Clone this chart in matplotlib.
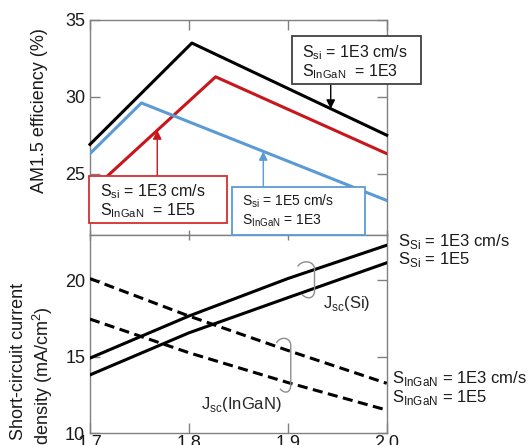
import matplotlib
matplotlib.use("Agg")
import matplotlib.pyplot as plt
import numpy as np
from matplotlib.patches import Rectangle, PathPatch
from matplotlib.path import Path

plt.rcParams['font.family'] = ['Liberation Sans', 'DejaVu Sans']
plt.rcParams['mathtext.fontset'] = 'custom'
plt.rcParams['mathtext.rm'] = 'Liberation Sans'

# ---- AM1.5 efficiency vs InGaN band gap (eV) ----
eff_x_1e3_1e3 = [1.70, 1.803, 2.00]
eff_1e3_1e3 = [26.9, 33.5, 27.5]
eff_x_1e3_1e5 = [1.70, 1.827, 2.00]
eff_1e3_1e5 = [23.8, 31.3, 26.3]
eff_x_1e5_1e3 = [1.70, 1.752, 2.00]
eff_1e5_1e3 = [26.3, 29.6, 23.25]

# ---- short-circuit current density (mA/cm^2) ----
jsc_x = [1.7, 1.8, 1.9, 2.0]
jsc_si_1e3 = [14.9, 17.65, 20.1, 22.28]
jsc_si_1e5 = [13.8, 16.55, 18.85, 21.13]
jsc_ingan_1e3 = [20.1, 17.65, 15.4, 13.25]
jsc_ingan_1e5 = [17.45, 15.25, 13.3, 11.5]

x_ticks = [1.7, 1.8, 1.9, 2.0]
x_ticklabels = ['1.7', '1.8', '1.9', '2.0']
eff_ticks = [25, 30, 35]
jsc_ticks = [10, 15, 20]

BLACK = '#000000'
RED = '#c8161d'
BLUE = '#5b9bd5'
SPINE = '#808080'

W, H = 528, 445
fig = plt.figure(figsize=(W / 100, H / 100), dpi=100)


def fx(px):
    return px / W


def fy(py):
    return 1 - py / H


ax1 = fig.add_axes([fx(90), fy(235), fx(386.7) - fx(90), fy(20) - fy(235)])
ax2 = fig.add_axes([fx(90), fy(433), fx(386.7) - fx(90), fy(235) - fy(433)])

for ax in (ax1, ax2):
    ax.set_xlim(1.7, 2.0)
    ax.set_xticks(x_ticks)
    for sp in ax.spines.values():
        sp.set_color(SPINE)
        sp.set_linewidth(1.0)
    ax.tick_params(which='both', direction='in', length=7, width=1,
                   color=SPINE, top=True, right=True, labelsize=13,
                   labelcolor='#1a1a1a')
    ax.tick_params(axis='y', pad=3.5)
    ax.tick_params(axis='x', pad=1.5)

ax1.set_ylim(21, 35)
ax1.set_yticks(eff_ticks)
ax1.tick_params(labelbottom=False)
ax2.set_ylim(10, 22.95)
ax2.set_yticks(jsc_ticks)
ax2.set_xticklabels(x_ticklabels)

# shorter ticks along the shared boundary between the panels
for t in ax1.xaxis.get_major_ticks():
    t.tick1line.set_markersize(3.5)
for t in ax2.xaxis.get_major_ticks():
    t.tick2line.set_markersize(3.5)

# efficiency curves
ax1.plot(eff_x_1e3_1e3, eff_1e3_1e3, color=BLACK, lw=2.2, clip_on=False, zorder=3)
ax1.plot(eff_x_1e3_1e5, eff_1e3_1e5, color=RED, lw=2.2, zorder=3)
ax1.plot(eff_x_1e5_1e3, eff_1e5_1e3, color=BLUE, lw=2.2, zorder=3)

# Jsc curves
ax2.plot(jsc_x, jsc_si_1e3, color=BLACK, lw=2.2, zorder=3)
ax2.plot(jsc_x, jsc_si_1e5, color=BLACK, lw=2.2, zorder=3)
ax2.plot(jsc_x, jsc_ingan_1e3, color=BLACK, lw=2.2, dashes=(3.3, 1.8), zorder=3)
ax2.plot(jsc_x, jsc_ingan_1e5, color=BLACK, lw=2.2, dashes=(3.3, 1.8), zorder=3)


def labelled_box(x0, y0, x1, y1, edge, lines, baselines, xtext, size):
    rect = Rectangle((fx(x0), fy(y1)), fx(x1) - fx(x0), fy(y0) - fy(y1),
                     transform=fig.transFigure, facecolor='white',
                     edgecolor=edge, lw=1.3, zorder=10)
    fig.add_artist(rect)
    for s, b in zip(lines, baselines):
        fig.text(fx(xtext), fy(b), s, fontsize=size, color='#1a1a1a',
                 va='baseline', ha='left', zorder=11)


def arrow_to(ax, xs, ys, xa, y_from_px, color):
    ya = float(np.interp(xa, xs, ys))
    ax.annotate('', xy=(xa, ya), xycoords='data',
                xytext=(xa, fy(y_from_px)), textcoords=('data', 'figure fraction'),
                arrowprops=dict(arrowstyle='-|>', color=color, lw=1.0,
                                mutation_scale=13, shrinkA=0, shrinkB=0),
                zorder=9, annotation_clip=False)


# annotation boxes with arrows
arrow_to(ax1, eff_x_1e3_1e3, eff_1e3_1e3, 1.9434, 84.3, BLACK)
labelled_box(292, 36, 421, 84.3, '#404040',
             [r'S$_\mathregular{si}$ = 1E3 cm/s', r'S$_\mathregular{InGaN}$  = 1E3'],
             [57.3, 76], 301.5, 11.5)

arrow_to(ax1, eff_x_1e3_1e5, eff_1e3_1e5, 1.768, 176, RED)
labelled_box(89.3, 176, 226.7, 223.3, '#d42e2e',
             [r'S$_\mathregular{si}$ = 1E3 cm/s', r'S$_\mathregular{InGaN}$  = 1E5'],
             [196.7, 215], 100, 11.5)

arrow_to(ax1, eff_x_1e5_1e3, eff_1e5_1e3, 1.8752, 186.7, BLUE)
labelled_box(232.3, 186.7, 365.3, 235, BLUE,
             [r'S$_\mathregular{si}$ = 1E5 cm/s', r'S$_\mathregular{InGaN}$ = 1E3'],
             [206, 225], 241.5, 10)


def brace(ax, xr, yt, yb, w):
    verts = [(xr - w, yt - 0.25),
             (xr - 0.8 * w, yt + 0.15), (xr - 0.1 * w, yt + 0.2), (xr, yt - 0.35),
             (xr, yb + 0.45),
             (xr, yb - 0.1), (xr - 0.45 * w, yb - 0.15), (xr - 0.75 * w, yb + 0.2)]
    codes = [Path.MOVETO, Path.CURVE4, Path.CURVE4, Path.CURVE4,
             Path.LINETO, Path.CURVE4, Path.CURVE4, Path.CURVE4]
    ax.add_patch(PathPatch(Path(verts, codes), facecolor='none',
                           edgecolor='#8c8c8c', lw=1.0, zorder=4))


bx_si = 1.927
brace(ax2, bx_si, np.interp(bx_si, jsc_x, jsc_si_1e3) + 0.45,
      np.interp(bx_si, jsc_x, jsc_si_1e5) - 0.6, 0.017)
bx_in = 1.903
brace(ax2, bx_in, np.interp(bx_in, jsc_x, jsc_ingan_1e3) + 0.8,
      np.interp(bx_in, jsc_x, jsc_ingan_1e5) - 0.55, 0.0145)

fig.text(fx(323.3), fy(308.3), r'J$_\mathregular{sc}$(Si)', fontsize=12,
         color='#262626', va='baseline')
fig.text(fx(201), fy(409.3), r'J$_\mathregular{sc}$(InGaN)', fontsize=12,
         color='#262626', va='baseline')

# curve labels on the right
fig.text(fx(398), fy(246), r'S$_\mathregular{Si}$ = 1E3 cm/s', fontsize=12,
         color='#1a1a1a', va='baseline')
fig.text(fx(398), fy(264.3), r'S$_\mathregular{Si}$ = 1E5', fontsize=12,
         color='#1a1a1a', va='baseline')
fig.text(fx(392), fy(382.7), r'S$_\mathregular{InGaN}$ = 1E3 cm/s', fontsize=12,
         color='#1a1a1a', va='baseline')
fig.text(fx(392), fy(401.7), r'S$_\mathregular{InGaN}$ = 1E5', fontsize=12,
         color='#1a1a1a', va='baseline')

# axis titles
fig.text(fx(40), fy(110.5), 'AM1.5 efficiency (%)', rotation=90, fontsize=13,
         ha='center', va='center', color='#1a1a1a')
fig.text(fx(19), fy(361), 'Short-circuit current', rotation=90, fontsize=13,
         ha='center', va='center', color='#1a1a1a')
fig.text(fx(43), fy(376), r'density (mA/cm$^\mathregular{2}$)', rotation=90,
         fontsize=13, ha='center', va='center', color='#1a1a1a')

fig.savefig('out.png', dpi=100)
